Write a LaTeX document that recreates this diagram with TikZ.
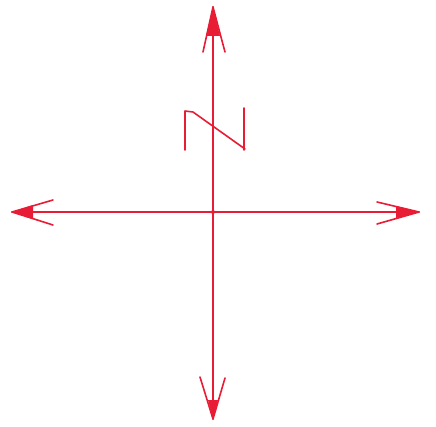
\documentclass[tikz,border=0pt]{standalone}
\definecolor{inkred}{RGB}{232,28,52}
\begin{document}
\begin{tikzpicture}[x=1pt,y=-1pt,
  ink/.style={draw=inkred,line width=1.6pt,line cap=round,line join=round},
  thin ink/.style={draw=inkred,line width=1.1pt,line cap=round},
  tipfill/.style={fill=inkred}]
\useasboundingbox (0,0) rectangle (436,427);
\coordinate (N) at (213,7);
\coordinate (S) at (213,419);
\coordinate (W) at (12,212);
\coordinate (E) at (419,212);
\coordinate (C) at (213,212);
% axes
\draw[thin ink] (N) -- (S);
\draw[thin ink] (W) -- (E);
% north arrowhead
\draw[ink] (N) -- (203,52);
\draw[ink] (N) -- (225,52);
\fill[tipfill] (N) -- (206,36) -- (220,36) -- cycle;
% south arrowhead
\draw[ink] (S) -- (200,377);
\draw[ink] (S) -- (225,378);
\fill[tipfill] (S) -- (208,400) -- (218,400) -- cycle;
% west arrowhead
\draw[ink] (W) -- (53,200);
\draw[ink] (W) -- (53,225);
\fill[tipfill] (W) -- (33,205) -- (33,219) -- cycle;
% east arrowhead
\draw[ink] (E) -- (377,202);
\draw[ink] (E) -- (377,224);
\fill[tipfill] (E) -- (396,206) -- (396,218) -- cycle;
% centre dot
\fill[inkred] (C) circle (2pt);
% N letter
\draw[ink] (185,150) -- (185,111) -- (193,112) -- (245,149);
\draw[ink] (244,108) -- (244,150);
\end{tikzpicture}
\end{document}
